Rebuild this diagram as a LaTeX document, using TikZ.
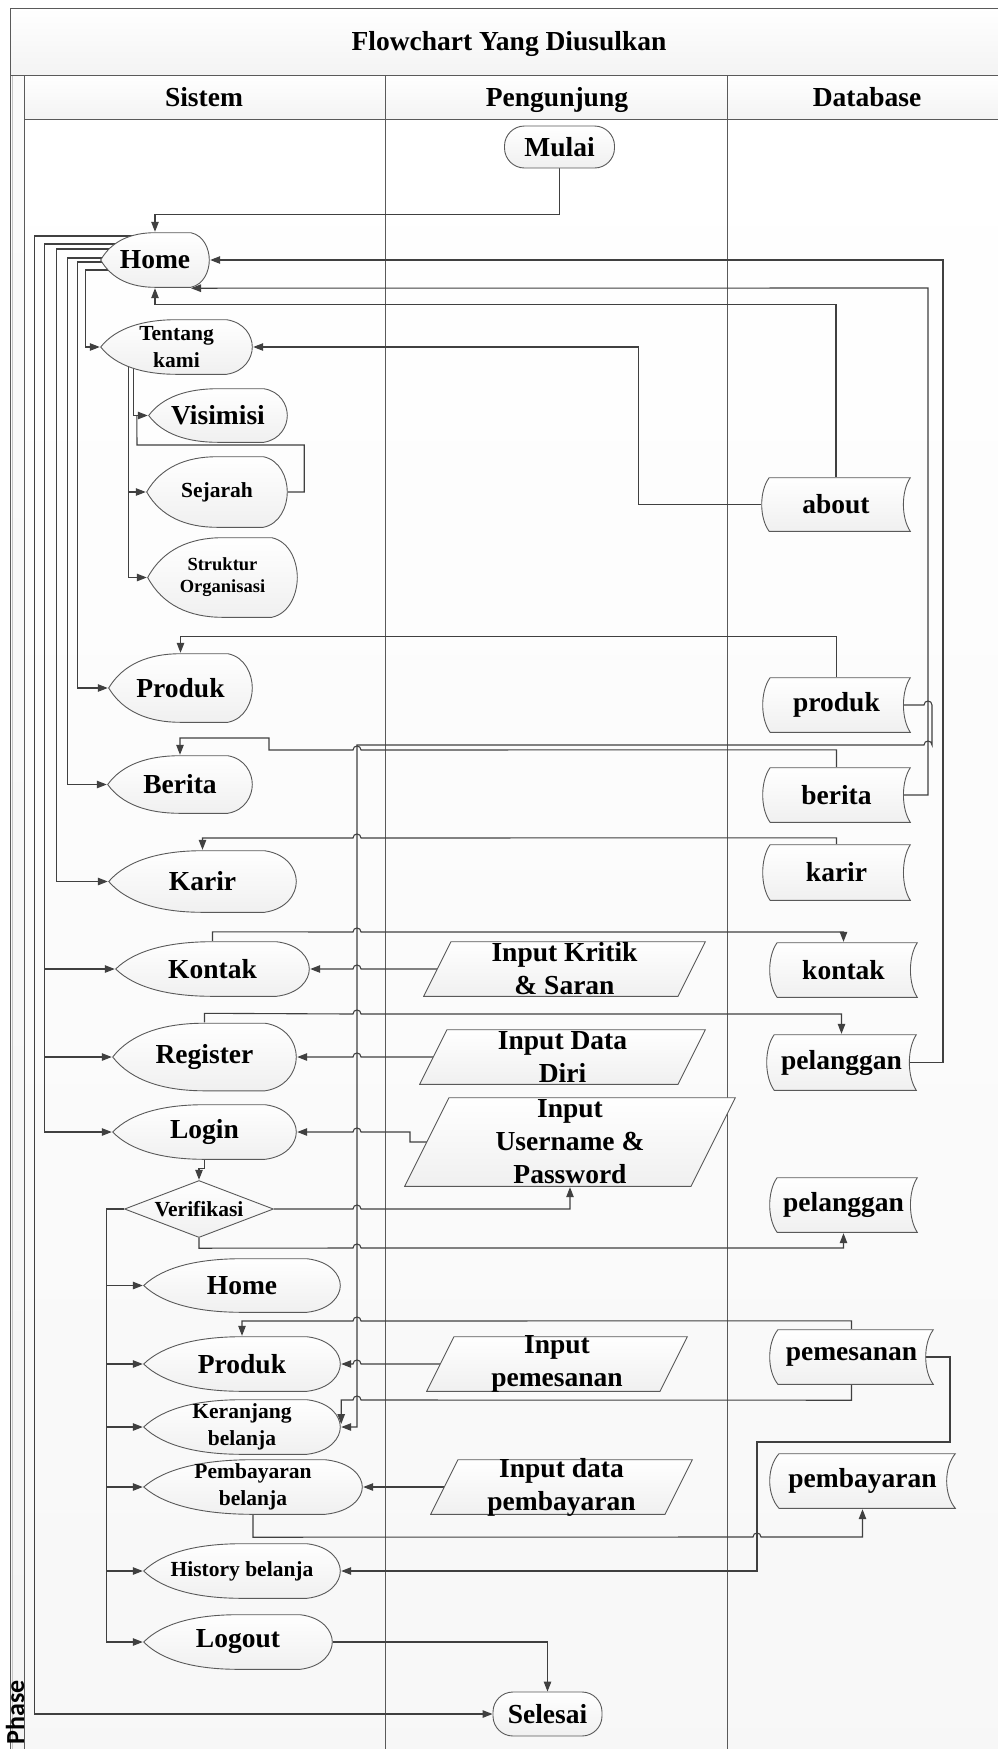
\documentclass[tikz,border=0pt]{standalone}
\usepackage{fontspec}
\setmainfont{Liberation Serif}
\newfontfamily\phasefont{Carlito}
\usetikzlibrary{arrows.meta,calc}
\pgfdeclarelayer{back}
\pgfdeclarelayer{lines}
\pgfsetlayers{back,lines,main}
\definecolor{linegray}{HTML}{404040}
\definecolor{framegray}{HTML}{5A5A5A}
\definecolor{shapegray}{HTML}{595959}
\tikzset{
  txtL/.style={font=\fontsize{27.5}{33}\selectfont\bfseries, align=center},
  txtM/.style={font=\fontsize{21.5}{27}\selectfont\bfseries, align=center},
  txtS/.style={font=\fontsize{18.5}{22}\selectfont\bfseries, align=center},
  conn/.style={draw=linegray, line width=1.1pt},
  % kleine Bruecke ueber kreuzende Linien
  hopR/.style 2 args={insert path={-- ({#1-4},#2) .. controls ({#1-4},{#2-5.3}) and ({#1+4},{#2-5.3}) .. ({#1+4},#2)}},
  hopL/.style 2 args={insert path={-- ({#1+4},#2) .. controls ({#1+4},{#2-5.3}) and ({#1-4},{#2-5.3}) .. ({#1-4},#2)}},
  shapefill/.style={draw=shapegray, line width=0.9pt, top color=white, bottom color=gray!12},
  outline/.style={path picture={\path[shapefill] let
      \p1=($(path picture bounding box.south west)+(.7pt,.7pt)$),
      \p2=($(path picture bounding box.north east)-(.7pt,.7pt)$),
      \n1={\x2-\x1}, \n2={\y2-\y1} in #1;}},
  % Display (Spalte Sistem)
  disp/.style 2 args={minimum width=#1pt, minimum height=#2pt, inner sep=0pt, inner ysep=-4pt,
    outline={(\x1,{\y1+.5*\n2}) .. controls ({\x1+.1*\n1},{\y1+.85*\n2}) and ({\x1+.28*\n1},\y2) .. ({\x1+.5*\n1},\y2)
      -- ({\x2-.17*\n1},\y2) .. controls ({\x2-.05*\n1},{\y2-.05*\n2}) and (\x2,{\y2-.3*\n2}) .. (\x2,{\y1+.5*\n2})
      .. controls (\x2,{\y1+.3*\n2}) and ({\x2-.05*\n1},{\y1+.05*\n2}) .. ({\x2-.17*\n1},\y1)
      -- ({\x1+.5*\n1},\y1) .. controls ({\x1+.28*\n1},\y1) and ({\x1+.1*\n1},{\y1+.15*\n2}) .. cycle}},
  % Stored data (Spalte Database)
  dbase/.style 2 args={minimum width=#1pt, minimum height=#2pt, inner sep=0pt, inner ysep=-4pt,
    outline={({\x1+.05*\n1},\y2) -- (\x2,\y2)
      .. controls ({\x2-.062*\n1},{\y2-.25*\n2}) and ({\x2-.062*\n1},{\y1+.25*\n2}) .. (\x2,\y1)
      -- ({\x1+.05*\n1},\y1)
      .. controls ({\x1-.0167*\n1},{\y1+.25*\n2}) and ({\x1-.0167*\n1},{\y2-.25*\n2}) .. cycle}},
  % Eingabe
  inbox/.style 2 args={minimum width=#1pt, minimum height=#2pt, inner sep=0pt, inner ysep=-4pt,
    outline={({\x1+.5*\n2},\y2) -- (\x2,\y2) -- ({\x2-.5*\n2},\y1) -- (\x1,\y1) -- cycle}},
  decide/.style 2 args={minimum width=#1pt, minimum height=#2pt, inner sep=0pt,
    outline={(\x1,{\y1+.5*\n2}) -- ({\x1+.5*\n1},\y2) -- (\x2,{\y1+.5*\n2}) -- ({\x1+.5*\n1},\y1) -- cycle}},
  term/.style 2 args={minimum width=#1pt, minimum height=#2pt, inner sep=0pt, rounded corners=20pt, shapefill},
}
\begin{document}
\begin{tikzpicture}[x=1pt, y=-1pt, >={Triangle[length=10pt,width=7.5pt]}]
  \useasboundingbox (0,0) rectangle (997,1749);
  % Rahmen und Spalten
  \begin{pgfonlayer}{back}
    \shade[top color=white, bottom color=gray!9] (10,8) rectangle (1010,75);
    \shade[top color=white, bottom color=gray!9] (24,75) rectangle (1010,119);
    \shade[top color=white, bottom color=gray!6] (24,119) rectangle (1010,1760);
    \shade[top color=gray!3, bottom color=gray!8] (10,75) rectangle (24,1760);
    \draw[framegray, line width=1pt] (1010,8) -- (10,8) -- (10,1760);
    \draw[gray!45, line width=1pt] (12.5,75) -- (12.5,1760);
    \draw[framegray, line width=1pt] (10,75) -- (1010,75) (24,119) -- (1010,119) (24,75) -- (24,1760);
    \foreach \x in {385,727} \draw[framegray, line width=1pt] (\x,75) -- (\x,1760);
  \end{pgfonlayer}
  % Beschriftung
  \node[txtL, anchor=base] (judul) at (509,50) {Flowchart Yang Diusulkan};
  \node[txtL, anchor=base] (hSistem) at (204,106) {Sistem};
  \node[txtL, anchor=base] (hPengunjung) at (557,106) {Pengunjung};
  \node[txtL, anchor=base] (hDatabase) at (867,106) {Database};
  % Sistem
  \node[disp={110}{56}, txtL] (home) at (155,260) {Home};
  \node[disp={153}{56}, txtM] (tentang) at (176.5,347) {Tentang\\kami};
  \node[disp={140}{55}, txtL] (visimisi) at (218,415.5) {Visimisi};
  \node[disp={142}{72}, txtM] (sejarah) at (217,492) {Sejarah};
  \node[disp={151}{81}, txtS] (struktur) at (222.5,577.5) {Struktur\\Organisasi};
  \node[disp={145}{70}, txtL] (produk) at (180.5,688) {Produk};
  \node[disp={146}{59}, txtL] (berita) at (180,784.5) {Berita};
  \node[disp={189}{63}, txtL] (karir) at (202.5,881.5) {Karir};
  \node[disp={195}{56}, txtL] (kontak) at (212.5,969) {Kontak};
  \node[disp={185}{69}, txtL] (register) at (204.5,1057) {Register};
  \node[disp={185}{56}, txtL] (login) at (204.5,1132) {Login};
  \node[decide={150}{58}, txtM] (verif) at (199,1209) {Verifikasi};
  \node[disp={198}{55}, txtL] (home2) at (242,1285.5) {Home};
  \node[disp={198}{56}, txtL] (produk2) at (242,1364) {Produk};
  \node[disp={198}{56}, txtM] (keranjang) at (242,1427) {Keranjang\\belanja};
  \node[disp={220}{56}, txtM] (bayar) at (253,1487) {Pembayaran\\belanja};
  \node[disp={198}{56}, txtM] (history) at (242,1571) {History belanja};
  \node[disp={190}{56}, txtL] (logout) at (238,1642) {Logout};
  % Pengunjung
  \node[term={110}{42}, txtL] (mulai) at (559.5,147) {Mulai};
  \node[term={109}{44}, txtL] (selesai) at (547.5,1714) {Selesai};
  \node[inbox={283}{56}, txtL] (inKritik) at (564.5,969) {Input Kritik\\\& Saran};
  \node[inbox={287}{56}, txtL] (inDiri) at (562.5,1057) {Input Data\\Diri};
  \node[inbox={332}{90}, txtL] (inLogin) at (570,1142) {Input\\Username \&\\Password};
  \node[inbox={262}{56}, txtL] (inPesan) at (557,1364) {Input\\pemesanan};
  \node[inbox={263}{56}, txtL] (inBayar) at (561.5,1487) {Input data\\pembayaran};
  % Database
  \node[dbase={150}{55}, txtL] (dbAbout) at (836,504.5) {about};
  \node[dbase={149}{56}, txtL] (dbProduk) at (836.5,705) {produk};
  \node[dbase={149}{56}, txtL] (dbBerita) at (836.5,795) {berita};
  \node[dbase={149}{57}, txtL] (dbKarir) at (836.5,872.5) {karir};
  \node[dbase={149}{56}, txtL] (dbKontak) at (843.5,970) {kontak};
  \node[dbase={151}{57}, txtL] (dbPelanggan) at (841.5,1062.5) {pelanggan};
  \node[dbase={149}{56}, txtL] (dbPelangganB) at (843.5,1205) {pelanggan};
  \node[dbase={165}{56}, txtL] (dbPesan) at (851.5,1357) {pemesanan};
  \node[dbase={187}{56}, txtL] (dbBayar) at (862.5,1481) {pembayaran};
  \node[font=\phasefont\fontsize{26}{30}\selectfont\bfseries, rotate=90] (phase) at (15,1712) {Phase};
  % Verbindungen
  \begin{pgfonlayer}{lines}
    \draw[conn,->] (mulai.south) -- ++(0,46) -| (home.north);
    \draw[conn,->] ([yshift=24pt]home.center) -| ([xshift=-458pt]selesai.west) -- (selesai.west);
    \draw[conn,->] ([yshift=16pt]home.center) -| ([xshift=-67pt]login.west) -- (login.west);
    \draw[conn,->] ([xshift=-70pt]kontak.west) -- (kontak.west);
    \draw[conn,->] ([xshift=-67pt]register.west) -- (register.west);
    \draw[conn,->] ([yshift=11pt]home.center) -| ([xshift=-51pt]karir.west) -- (karir.west);
    \draw[conn,->] ([yshift=2pt]home.center) -| ([xshift=-39pt]berita.west) -- (berita.west);
    \draw[conn,->] ([yshift=-2pt]home.center) -| ([xshift=-30pt]produk.west) -- (produk.west);
    \draw[conn,->] ([yshift=-10pt]home.center) -| ([xshift=-14pt]tentang.west) -- (tentang.west);
    % Tentang kami
    \draw[conn,->] ([xshift=-43pt]tentang.center) |- (visimisi.west);
    \draw[conn,->] ([xshift=-48pt]tentang.center) |- (struktur.west);
    \draw[conn,->] ([xshift=-18pt]sejarah.west) -- (sejarah.west);
    \draw[conn] (sejarah.east) -- ++(16,0) |- (137,445) -- ([xshift=-11pt]visimisi.west);
    % Database nach Sistem
    \draw[conn,->] (dbAbout.north) |- ([yshift=-16pt]home.south) -- (home.south);
    \draw[conn,->] (dbAbout.west) -- ++(-122,0) |- (tentang.east);
    \draw[conn,->] (dbBerita.center) -| (928,288) -- ([xshift=36pt]home.south);
    \draw[conn,->] (dbPelanggan.center) -| (943,260) -- (home.east);
    \draw[conn,->] (dbProduk.north) |- ([yshift=16pt]produk.north) -- (produk.north);
    \draw[conn,->] (dbProduk.center) [hopR={928}{705}] -- (932,745) [hopL={928}{745}] -- (357,745) |- (keranjang.east);
    \draw[conn,->] (dbBerita.north) -- ++(0,-17) [hopL={357}{750}] -- (269,750) -- (269,738) -| (berita.north);
    \draw[conn,->] (dbKarir.north) -- ++(0,-6) [hopL={357}{838}] -| (karir.north);
    \draw[conn,->] (kontak.north) -- ++(0,-9) [hopR={357}{932}] -| (dbKontak.north);
    \draw[conn,->] (inKritik.center) [hopL={357}{969}] -- (kontak.east);
    \draw[conn,->] (register.north) -- ++(0,-9) [hopR={357}{1014}] -| (dbPelanggan.north);
    \draw[conn,->] (inDiri.center) [hopL={357}{1057}] -- (register.east);
    \draw[conn,->] (inLogin.center) -- (410,1142) -- (410,1132) [hopL={357}{1132}] -- (login.east);
    % Login und Verifikasi
    \draw[conn,->] (login.south) -- ++(0,8) -| (verif.north);
    \draw[conn,->] (verif.east) [hopR={357}{1209}] -| (inLogin.south);
    \draw[conn,->] (verif.south) -- ++(0,10) [hopR={357}{1248}] -| (dbPelangganB.south);
    \draw[conn,->] (verif.west) -| ([xshift=-36pt]logout.west) -- (logout.west);
    \foreach \nm in {home2,produk2,keranjang,bayar,history}
      \draw[conn,->] ([xshift=-36pt]\nm.west) -- (\nm.west);
    % Belanja
    \draw[conn,->] (dbPesan.north) -- ++(0,-8) [hopL={357}{1321}] -| (produk2.north);
    \draw[conn,->] (inPesan.center) [hopL={357}{1364}] -- (produk2.east);
    \draw[conn,->] (dbPesan.south) -- ++(0,15) [hopL={357}{1400}] -| ([yshift=3pt]keranjang.east);
    \draw[conn,->] (inBayar.center) -- (bayar.east);
    \draw[conn,->] (bayar.south) -- ++(0,22) [hopR={757}{1537}] -| (dbBayar.south);
    \draw[conn,->] (dbPesan.center) -| (950,1442) -| (757,1571) -- (history.east);
    \draw[conn,->] (logout.east) -| (selesai.north);
  \end{pgfonlayer}
\end{tikzpicture}
\end{document}
